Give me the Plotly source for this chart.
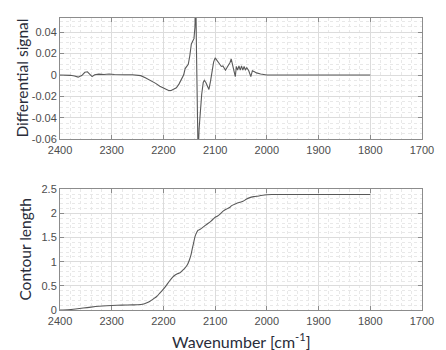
import plotly.graph_objects as go

# ---- data ----
wn_top = [2400, 2390, 2380, 2372, 2365, 2358, 2352, 2347, 2342, 2338, 2333, 2325, 2315, 2305,
          2295, 2285, 2275, 2260, 2250, 2244, 2235, 2226, 2215, 2207, 2198, 2190, 2185, 2180,
          2175, 2170, 2165, 2161, 2158, 2155, 2152, 2149, 2146, 2143, 2141, 2139, 2137.5, 2136,
          2134.5, 2133, 2131, 2129, 2126, 2123, 2121, 2118, 2115, 2112, 2109, 2106, 2103, 2100,
          2097, 2094, 2091, 2088, 2085, 2082, 2080, 2077, 2074, 2071, 2069, 2067, 2064, 2061,
          2059, 2056.5, 2054, 2051.5, 2049, 2046.5, 2044, 2041.5, 2039, 2035, 2031, 2028, 2024,
          2020, 2012, 2005, 2000, 1990, 1800]
diff_signal = [0.0, 0.0, -0.0003, -0.001, -0.002, -0.0005, 0.0025, 0.003, 0.0005, -0.0015, 0.0002,
               0.0008, 0.0005, 0.001, 0.0005, 0.0007, 0.0003, 0.0003, 0.0, -0.0006, -0.0025, -0.0046,
               -0.0078, -0.0105, -0.013, -0.0145, -0.0145, -0.0135, -0.012, -0.0085, -0.0045, 0.0,
               0.006, 0.0085, 0.010, 0.018, 0.029, 0.032, 0.034, 0.045, 0.075, 0.02, -0.04, -0.075,
               -0.05, -0.032, -0.018, -0.007, -0.005, -0.007, -0.011, -0.0135, -0.006, 0.004, 0.012,
               0.016, 0.014, 0.012, 0.0095, 0.008, 0.0085, 0.006, 0.0045, 0.007, 0.009, 0.012, 0.015,
               0.011, 0.005, -0.0015, 0.008, 0.0045, 0.0085, 0.0045, 0.0085, 0.0045, 0.008, 0.0045,
               0.007, 0.004, -0.0015, 0.004, 0.003, 0.002, 0.001, 0.0003, 0.0, 0.0, 0.0]

wn_bot = [2400, 2385, 2370, 2355, 2340, 2325, 2310, 2300, 2280, 2260, 2250, 2240, 2232, 2226, 2220,
          2213, 2207, 2201, 2195, 2189, 2183, 2178, 2173, 2168, 2164, 2159, 2154, 2150, 2147, 2144,
          2141, 2139, 2136, 2133, 2129, 2124, 2119, 2114, 2108, 2101, 2096, 2090, 2084, 2078, 2072,
          2068, 2060, 2052, 2046, 2040, 2034, 2025, 2015, 2008, 2000, 1990, 1800]
contour_len = [0.0, 0.005, 0.02, 0.04, 0.06, 0.077, 0.088, 0.094, 0.1, 0.105, 0.108, 0.12, 0.15, 0.18,
               0.225, 0.28, 0.35, 0.42, 0.5, 0.59, 0.67, 0.72, 0.75, 0.77, 0.81, 0.86, 0.93, 1.03, 1.13,
               1.28, 1.42, 1.52, 1.6, 1.65, 1.67, 1.71, 1.75, 1.79, 1.84, 1.91, 1.94, 1.99, 2.05, 2.09,
               2.12, 2.16, 2.2, 2.23, 2.25, 2.29, 2.32, 2.345, 2.36, 2.375, 2.385, 2.39, 2.39]

x_ticks = [2400, 2300, 2200, 2100, 2000, 1900, 1800, 1700]
x_ticktext = ["2400", "2300", "2200", "2100", "2000", "1900", "1800", "1700"]
top_yticks = [0.04, 0.02, 0, -0.02, -0.04, -0.06]
top_yticktext = ["0.04", "0.02", "0", "-0.02", "-0.04", "-0.06"]
bot_yticks = [0, 0.5, 1, 1.5, 2, 2.5]
bot_yticktext = ["0", "0.5", "1", "1.5", "2", "2.5"]

LINE = "#595959"
AX = "#8c8c8c"
GRID = "#dcdcdc"
MINOR = "#e8e8e8"
TICKFONT = dict(family="Liberation Sans, Arial, sans-serif", size=11, color="#4d4d4d")
TITLEFONT = dict(family="Lato, sans-serif", size=15.5, color="#2a2d3a")

fig = go.Figure()
fig.add_trace(go.Scatter(x=wn_top, y=diff_signal, mode="lines", line=dict(color=LINE, width=1.1),
                         xaxis="x", yaxis="y", showlegend=False))
fig.add_trace(go.Scatter(x=wn_bot, y=contour_len, mode="lines", line=dict(color=LINE, width=1.1,
                         shape="spline", smoothing=0.5),
                         xaxis="x2", yaxis="y2", showlegend=False))

common_x = dict(range=[2400.05, 1699.95], tickvals=x_ticks, ticktext=x_ticktext, ticks="inside", ticklen=4,
                tickcolor=AX, showline=True, linecolor=AX, linewidth=1, mirror="ticks",
                showgrid=True, gridcolor=GRID, gridwidth=1, zeroline=False, tickfont=TICKFONT,
                minor=dict(dtick=20, tick0=0, showgrid=True, gridcolor=MINOR, griddash="dot", ticks=""),
                ticklabelstandoff=1, ticklabeloverflow="allow")
common_y = dict(ticks="inside", ticklen=4, tickcolor=AX, showline=True, linecolor=AX, linewidth=1,
                mirror="ticks", showgrid=True, gridcolor=GRID, gridwidth=1, zeroline=False,
                tickfont=TICKFONT)

fig.update_layout(
    width=446, height=350,
    margin=dict(l=60, r=12, t=12, b=40),
    paper_bgcolor="white", plot_bgcolor="white",
    xaxis=dict(domain=[0, 1], anchor="y", **common_x),
    yaxis=dict(domain=[0.585, 1], anchor="x", range=[-0.06, 0.0533], tickvals=top_yticks,
               ticktext=top_yticktext,
               minor=dict(dtick=0.005, tick0=0, showgrid=True, gridcolor=MINOR, griddash="dot", ticks=""),
               **common_y),
    xaxis2=dict(domain=[0, 1], anchor="y2", **common_x),
    yaxis2=dict(domain=[0, 0.4138], anchor="x2", range=[0, 2.5], tickvals=bot_yticks,
                ticktext=bot_yticktext,
                minor=dict(dtick=0.1, tick0=0, showgrid=True, gridcolor=MINOR, griddash="dot", ticks=""),
                **common_y),
    annotations=[
        dict(text="Differential signal", textangle=-90, xref="paper", yref="paper", x=0, y=0.7925,
             xanchor="center", yanchor="middle", xshift=-38, showarrow=False, font=TITLEFONT),
        dict(text="Contour length", textangle=-90, xref="paper", yref="paper", x=0, y=0.2069,
             xanchor="center", yanchor="middle", xshift=-35, showarrow=False, font=TITLEFONT),
        dict(text="Wavenumber [cm<sup>-1</sup>]", xref="paper", yref="paper", x=0.5, y=0,
             xanchor="center", yanchor="middle", yshift=-30, showarrow=False,
             font=dict(family="Lato, sans-serif", size=16, color="#2a2d3a")),
    ],
)

fig.write_html("out.html")
